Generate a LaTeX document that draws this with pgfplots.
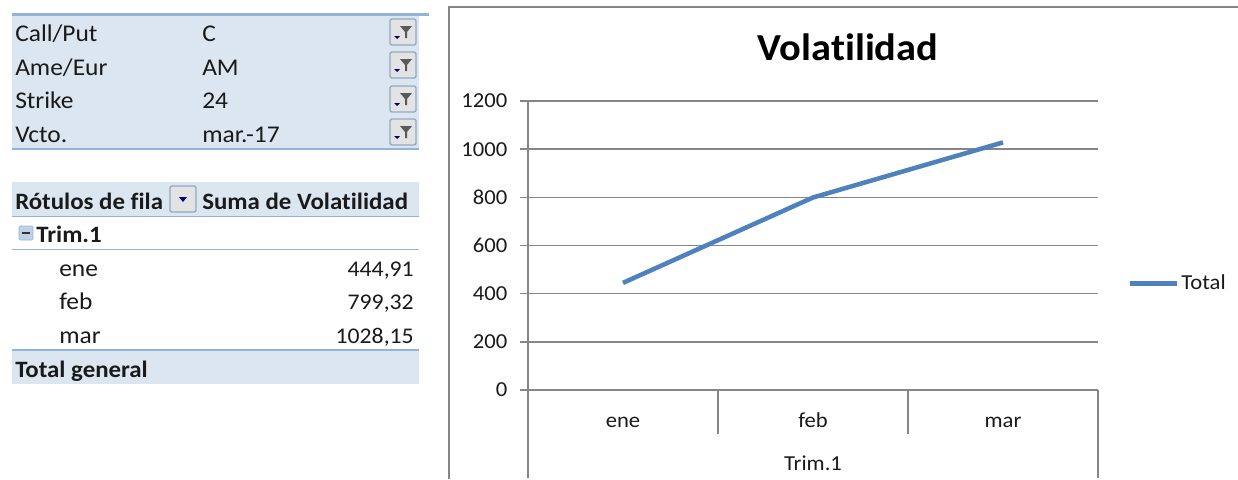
\documentclass[border=0pt]{standalone}
\usepackage{pgfplots}
\pgfplotsset{compat=1.18}
\usepackage{fontspec}
\setmainfont[Ligatures=NoCommon,FakeStretch=1.06]{Carlito}
\definecolor{panel}{HTML}{DCE6F1}
\definecolor{rule}{HTML}{95B3D7}
\definecolor{series}{HTML}{4F81BD}
\definecolor{gridc}{HTML}{868686}
\definecolor{txt}{HTML}{1A1A1A}
\newcommand{\fs}[1]{\fontsize{#1}{#1}\selectfont}
\begin{document}
\begin{tikzpicture}[x=0.75pt,y=-0.75pt,
  lab/.style={anchor=base west,inner sep=0,text=txt,font=\fs{18}},
  blab/.style={anchor=base west,inner sep=0,text=txt,font=\fs{17.6}\bfseries},
  num/.style={anchor=base east,inner sep=0,text=txt,font=\fs{16.8}},
  btn/.style={draw=rule!80!gray,fill=gray!22,rounded corners=1.5pt,line width=1pt}]
\useasboundingbox (0,0) rectangle (1238,479);
% filter panel
\fill[panel] (12,15) rectangle (419,149);
\draw[rule,line width=1.6pt] (12,14.5) -- (429,14.5);
\draw[rule,line width=1.1pt] (12,149) -- (419,149);
\foreach \yy/\a/\b in {41/Call\slash Put/C,75/Ame\slash Eur/AM,108/Strike/24,142/Vcto./mar.-17}{
  \node[lab] at (15,\yy) {\a};
  \node[lab] at (202,\yy) {\b};
}
\foreach \yy in {19,52,86,119}{
  \draw[btn] (390,\yy) rectangle (416,\yy+26);
  \fill[gray!70!black] (400,\yy+7) -- (412,\yy+7) -- (407,\yy+13) -- (407,\yy+19) -- (405,\yy+19) -- (405,\yy+13) -- cycle;
  \fill[blue!50!black] (394,\yy+17) -- (400,\yy+17) -- (397,\yy+20) -- cycle;
}
% pivot table
\fill[panel] (12,182) rectangle (419,216);
\draw[rule,line width=1.1pt] (12,216.5) -- (419,216.5);
\node[blab] at (15,209) {Rótulos de fila};
\draw[btn] (170,186) rectangle (196,212);
\fill[blue!50!black] (179,197) -- (187,197) -- (183,202) -- cycle;
\node[blab] at (202,209) {Suma de Volatilidad};
\draw[fill=rule!60,draw=rule,rounded corners=1pt] (19,226) rectangle (33,240);
\draw[gray!40!black,line width=0.9pt] (22,233) -- (30,233);
\node[blab] at (36,242) {Trim.1};
\draw[rule,line width=1.1pt] (12,249.5) -- (419,249.5);
\node[lab] at (59,276) {ene};
\node[num] at (414,276) {444,91};
\node[lab] at (59,309) {feb};
\node[num] at (414,309) {799,32};
\node[lab] at (59,343) {mar};
\node[num] at (414,343) {1028,15};
\fill[panel] (12,350) rectangle (419,384);
\draw[rule,line width=1.1pt] (12,350) -- (419,350);
\node[blab] at (15,377) {Total general};
% chart frame
\draw[gridc,line width=1.3pt] (449,479) -- (449,7) -- (1238,7);
\node[anchor=base,inner sep=0,text=black,font=\fs{28.6}\bfseries] at (848,60) {Volatilidad};
% plot
\begin{axis}[
  at={(396pt,-292.5pt)},anchor=south west,
  scale only axis,
  width=427.5pt,height=216.75pt,
  xmin=0,xmax=3,ymin=0,ymax=1200,
  clip=false,
  ytick={0,200,...,1200},
  xtick={0.5,1.5,2.5},
  xticklabels={ene,feb,mar},
  ymajorgrids,
  grid style={gridc,line width=1.1pt},
  axis line style={gridc,line width=1.1pt},
  axis x line*=bottom,
  axis y line*=left,
  x axis line style={-},y axis line style={-},
  tick style={gridc,line width=1.1pt},
  tick align=outside,
  major tick length=6pt,
  x tick style={draw=none},
  tick label style={font=\fs{16},text=txt},
  /pgf/number format/assume math mode=true,
  /pgf/number format/1000 sep={},
  xticklabel style={yshift=-7.5pt,text height=11pt,text depth=3pt},
  yticklabel style={xshift=-6pt},
  legend style={draw=none,fill=none,at={(rel axis cs:1,0.5)},anchor=west,xshift=22pt,yshift=-28.5pt,font=\fs{16},text=txt,inner sep=0pt},
  legend image code/.code={\draw[series,line width=3.4pt] (0pt,0pt) -- (35pt,0pt);},
  legend cell align=left,
]
\addplot[series,line width=3.4pt,line join=round] coordinates {(0.5,444.91) (1.5,799.32) (2.5,1028.15)};
\addlegendentry{Total}
\draw[gridc,line width=1.1pt] (axis cs:0,0) -- ++(0,-66pt);
\draw[gridc,line width=1.1pt] (axis cs:3,0) -- ++(0,-66pt);
\draw[gridc,line width=1.1pt] (axis cs:1,0) -- ++(0,-33pt);
\draw[gridc,line width=1.1pt] (axis cs:2,0) -- ++(0,-33pt);
\node[anchor=base,inner sep=0,text=txt,font=\fs{16}] at ([yshift=-60pt]axis cs:1.5,0) {Trim.1};
\end{axis}
\end{tikzpicture}
\end{document}
